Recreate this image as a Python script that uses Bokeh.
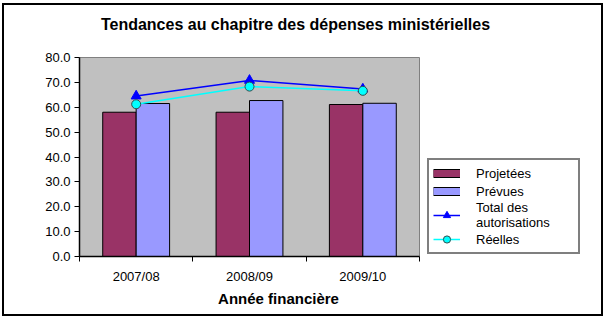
from bokeh.plotting import figure
from bokeh.layouts import column, row
from bokeh.models import (ColumnDataSource, FixedTicker, NumeralTickFormatter, Legend,
                          LegendItem, Label, Range1d, InlineStyleSheet)
from bokeh.transform import dodge
from bokeh.embed import file_html
from bokeh.resources import INLINE

# ---- data ----
categories = ["2007/08", "2008/09", "2009/10"]
projetees = [58.0, 58.0, 61.1]
prevues = [61.5, 62.7, 61.6]
total_autorisations = [64.5, 70.8, 67.3]
reelles = [61.2, 68.3, 66.6]
y_ticks = [0, 10, 20, 30, 40, 50, 60, 70, 80]

title_text = "Tendances au chapitre des dépenses ministérielles"
x_title = "Année financière"
label_proj = "Projetées"
label_prev = "Prévues"
label_total = "Total des\nautorisations"
label_reel = "Réelles"

FONT = "Liberation Sans"
C_PROJ = "#993366"
C_PREV = "#9999FF"
C_TOTAL = "#0000FF"
C_REEL = "#00FFFF"
NAN = float("nan")

W, H = 606, 327
TOP_H = 45          # title strip
BOT_H = 39          # x-title strip
MAIN_W = 420        # chart (axes + plot area)
MID_H = H - TOP_H - BOT_H


def strip(width, height):
    f = figure(width=width, height=height, output_backend="svg", toolbar_location=None,
               x_range=Range1d(0, width), y_range=Range1d(0, height), min_border=0,
               title=None, x_axis_location=None, y_axis_location=None)
    f.grid.visible = False
    f.outline_line_color = None
    f.background_fill_color = "white"
    f.border_fill_color = "white"
    return f


# ---- title strip ----
tp = strip(W, TOP_H)
tp.add_layout(Label(x=295, y=TOP_H - 24, text=title_text, text_align="center",
                    text_baseline="middle", text_font=FONT, text_font_style="bold",
                    text_font_size="16px", text_color="black"))

# ---- x-title strip ----
bp = strip(W, BOT_H)
bp.add_layout(Label(x=278, y=BOT_H - 10, text=x_title, text_align="center",
                    text_baseline="middle", text_font=FONT, text_font_style="bold",
                    text_font_size="15px", text_color="black"))

# ---- main chart ----
xs = [i + 0.5 for i in range(len(categories))]
src = ColumnDataSource(dict(x=xs, cat=categories, proj=projetees, prev=prevues,
                            total=total_autorisations, reel=reelles))

p = figure(width=MAIN_W, height=MID_H, output_backend="svg", toolbar_location=None,
           x_range=Range1d(0, len(categories)), y_range=Range1d(0, y_ticks[-1]),
           min_border_left=79, min_border_right=1, min_border_top=57 - TOP_H,
           min_border_bottom=(H - BOT_H) - 256, title=None)
p.background_fill_color = "#C0C0C0"
p.border_fill_color = "white"
p.outline_line_color = "#808080"
p.outline_line_width = 1
p.xgrid.visible = False
p.ygrid.visible = False

bw = 0.295
rp = p.vbar(x=dodge("x", -bw / 2), top="proj", width=bw, source=src,
            fill_color=C_PROJ, line_color="black", line_width=1)
rv = p.vbar(x=dodge("x", bw / 2), top="prev", width=bw, source=src,
            fill_color=C_PREV, line_color="black", line_width=1)

lt = p.line("x", "total", source=src, line_color=C_TOTAL, line_width=1.5)
mt = p.scatter("x", "total", source=src, marker="triangle", size=10,
               fill_color=C_TOTAL, line_color=C_TOTAL)
lr = p.line("x", "reel", source=src, line_color=C_REEL, line_width=1.5)
mr = p.scatter("x", "reel", source=src, marker="circle", size=9,
               fill_color=C_REEL, line_color="#2F4F4F")

xa = p.xaxis[0]
xa.ticker = FixedTicker(ticks=xs, minor_ticks=list(range(len(categories) + 1)))
xa.major_label_overrides = {x: c for x, c in zip(xs, categories)}
xa.major_tick_out = 0
xa.major_tick_in = 0
xa.minor_tick_out = 5
xa.minor_tick_in = 0
xa.minor_tick_line_color = "black"
xa.axis_line_color = "black"
xa.axis_line_width = 1.5
xa.major_label_text_font = FONT
xa.major_label_text_font_size = "13px"
xa.major_label_text_color = "black"
xa.major_label_standoff = 7

ya = p.yaxis[0]
ya.ticker = FixedTicker(ticks=y_ticks)
ya.formatter = NumeralTickFormatter(format="0.0")
ya.major_tick_out = 5
ya.major_tick_in = 0
ya.minor_tick_line_color = None
ya.axis_line_color = "black"
ya.axis_line_width = 1.5
ya.major_tick_line_color = "black"
ya.major_label_text_font = FONT
ya.major_label_text_font_size = "13px"
ya.major_label_text_color = "black"
ya.major_label_standoff = 4

# ---- legend panel ----
lg = strip(W - MAIN_W, MID_H)
# legend key proxies (no data drawn: NaN positions)
k_proj_o = lg.line(x=[NAN], y=[NAN], line_color="black", line_width=9)
k_proj_i = lg.line(x=[NAN], y=[NAN], line_color=C_PROJ, line_width=7)
k_prev_o = lg.line(x=[NAN], y=[NAN], line_color="black", line_width=9)
k_prev_i = lg.line(x=[NAN], y=[NAN], line_color=C_PREV, line_width=7)
k_tot_l = lg.line(x=[NAN], y=[NAN], line_color=C_TOTAL, line_width=1.5)
k_tot_m = lg.scatter(x=[NAN], y=[NAN], marker="triangle", fill_color=C_TOTAL,
                     line_color=C_TOTAL)
k_reel_l = lg.line(x=[NAN], y=[NAN], line_color=C_REEL, line_width=1.5)
k_reel_m = lg.scatter(x=[NAN], y=[NAN], marker="circle", fill_color=C_REEL,
                      line_color="#2F4F4F")

leg = Legend(items=[LegendItem(label=label_proj, renderers=[k_proj_o, k_proj_i]),
                    LegendItem(label=label_prev, renderers=[k_prev_o, k_prev_i]),
                    LegendItem(label=label_total, renderers=[k_tot_l, k_tot_m]),
                    LegendItem(label=label_reel, renderers=[k_reel_l, k_reel_m])],
             location=(427 - MAIN_W, 2), glyph_width=27,
             glyph_height=18, label_height=15, label_width=98, spacing=0, padding=4,
             label_standoff=16, border_line_color="black", border_line_width=2,
             background_fill_color="white", background_fill_alpha=1,
             label_text_font=FONT, label_text_font_size="13px",
             label_text_color="black", margin=0)
lg.add_layout(leg)

layout = column(tp, row(p, lg, spacing=0), bp, spacing=0)
# outer chart border (decoration only)
layout.stylesheets = [InlineStyleSheet(css=(
    ":host { position: relative; }"
    ":host::after { content: ''; position: absolute; left: 2px; top: 3px; "
    "width: 601px; height: 313px; border: 2px solid black; box-sizing: border-box; "
    "pointer-events: none; }"))]

open("out.html", "w").write(file_html(layout, INLINE))
